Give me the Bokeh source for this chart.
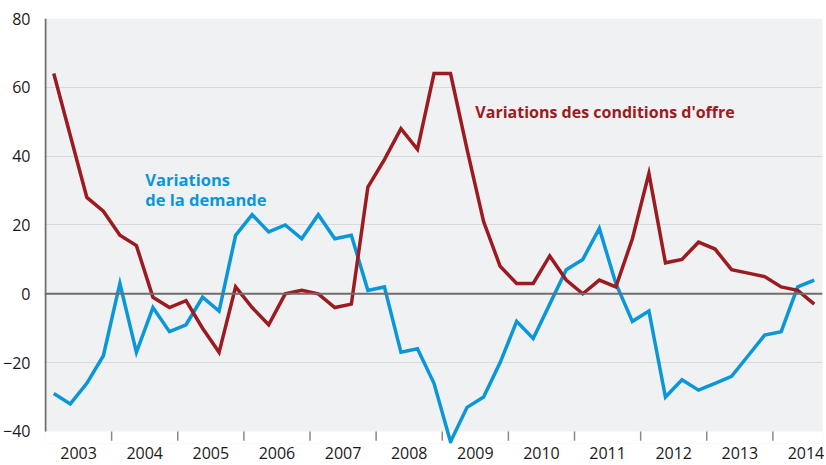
from bokeh.plotting import figure
from bokeh.models import (Range1d, FixedTicker, Span, BoxAnnotation, ColumnDataSource)
from bokeh.core.properties import value
from bokeh.embed import file_html
from bokeh.resources import INLINE

# ---- data (quarterly, 2003 Q1 .. 2014 Q3) ----
start_year = 2003
years = [str(y) for y in range(2003, 2015)]
offre = [64, 46, 28, 24, 17, 14, -1, -4, -2, -10, -17, 2, -4, -9, 0, 1, 0, -4, -3,
         31, 39, 48, 42, 64, 64, 42, 21, 8, 3, 3, 11, 4, 0, 4, 2, 16, 35, 9, 10, 15,
         13, 7, 6, 5, 2, 1, -3]
demande = [-29, -32, -26, -18, 3, -17, -4, -11, -9, -1, -5, 17, 23, 18, 20, 16, 23,
           16, 17, 1, 2, -17, -16, -26, -43, -33, -30, -20, -8, -13, -3, 7, 10, 19, 3,
           -8, -5, -30, -25, -28, -26, -24, -18, -12, -11, 2, 4]
y_ticks = [-40, -20, 0, 20, 40, 60, 80]
grid_ticks = [-20, 20, 40, 60]
label_offre = "Variations des conditions d'offre"
label_demande = ["Variations", "de la demande"]

RED = "#9c1b20"
BLUE = "#0a97d9"
FONT = "Open Sans"

x = [start_year + (i + 0.5) / 4 for i in range(len(offre))]
src = ColumnDataSource(dict(x=x, offre=offre, demande=demande))

p = figure(width=824, height=464, output_backend="svg", toolbar_location=None,
           x_range=Range1d(2002.985, 2014.75), y_range=Range1d(-43.5, 80),
           min_border_left=43, min_border_right=2, min_border_top=18,
           min_border_bottom=21)
p.outline_line_color = None
p.background_fill_color = "#f0f1f3"
p.border_fill_color = "white"

# white strip below -40 (the lines may dip below)
p.add_layout(BoxAnnotation(top=-40, fill_color="white", fill_alpha=1,
                           line_color=None, level="underlay"))

# y axis
p.yaxis.ticker = FixedTicker(ticks=y_ticks)
p.yaxis.axis_line_color = None
p.yaxis.major_tick_line_color = None
p.yaxis.minor_tick_line_color = None
p.yaxis.major_tick_out = 0
p.yaxis.major_tick_in = 0
p.yaxis.major_label_standoff = 14
p.yaxis.major_label_text_font = FONT
p.yaxis.major_label_text_font_size = "16px"
p.yaxis.major_label_text_color = "#1a1a1a"

# x axis: year labels centred in each year
year_mid = [int(y) + 0.5 for y in years]
p.xaxis.ticker = FixedTicker(ticks=year_mid)
p.xaxis.major_label_overrides = {m: y for m, y in zip(year_mid, years)}
p.xaxis.axis_line_color = None
p.xaxis.major_tick_line_color = None
p.xaxis.minor_tick_line_color = None
p.xaxis.major_tick_out = 0
p.xaxis.major_tick_in = 0
p.xaxis.major_label_standoff = 3
p.xaxis.major_label_text_font = FONT
p.xaxis.major_label_text_font_size = "16px"
p.xaxis.major_label_text_color = "#1a1a1a"

# grid
p.xgrid.grid_line_color = None
p.ygrid.ticker = FixedTicker(ticks=grid_ticks)
p.ygrid.grid_line_color = "#d8d9dc"
p.ygrid.grid_line_width = 1.2

# year-boundary tick marks below the plot area
bounds = [int(y) for y in years[1:]]
p.segment(x0=bounds, y0=[-40] * len(bounds), x1=bounds, y1=[-42.7] * len(bounds),
          line_color="#8a8a8a", line_width=1.5)

# zero line and left axis line
p.add_layout(Span(location=0, dimension="width", line_color="#6e6e6e", line_width=2))
p.segment(x0=[start_year], y0=[-40], x1=[start_year], y1=[80],
          line_color="#707070", line_width=2)

# series
p.line("x", "demande", source=src, line_color=BLUE, line_width=3.5, line_join="miter")
p.line("x", "offre", source=src, line_color=RED, line_width=3.5, line_join="miter")

# labels
p.text(x=[2009.5], y=[52.7], text=[label_offre], text_color=RED,
       text_font=value(FONT), text_font_style="bold", text_font_size="16px",
       text_baseline="middle", text_align="left")
p.text(x=[2004.51, 2004.51], y=[33.2, 27.3], text=label_demande, text_color=BLUE,
       text_font=value(FONT), text_font_style="bold", text_font_size="16.5px",
       text_baseline="middle", text_align="left")

open("out.html", "w").write(file_html(p, INLINE))
